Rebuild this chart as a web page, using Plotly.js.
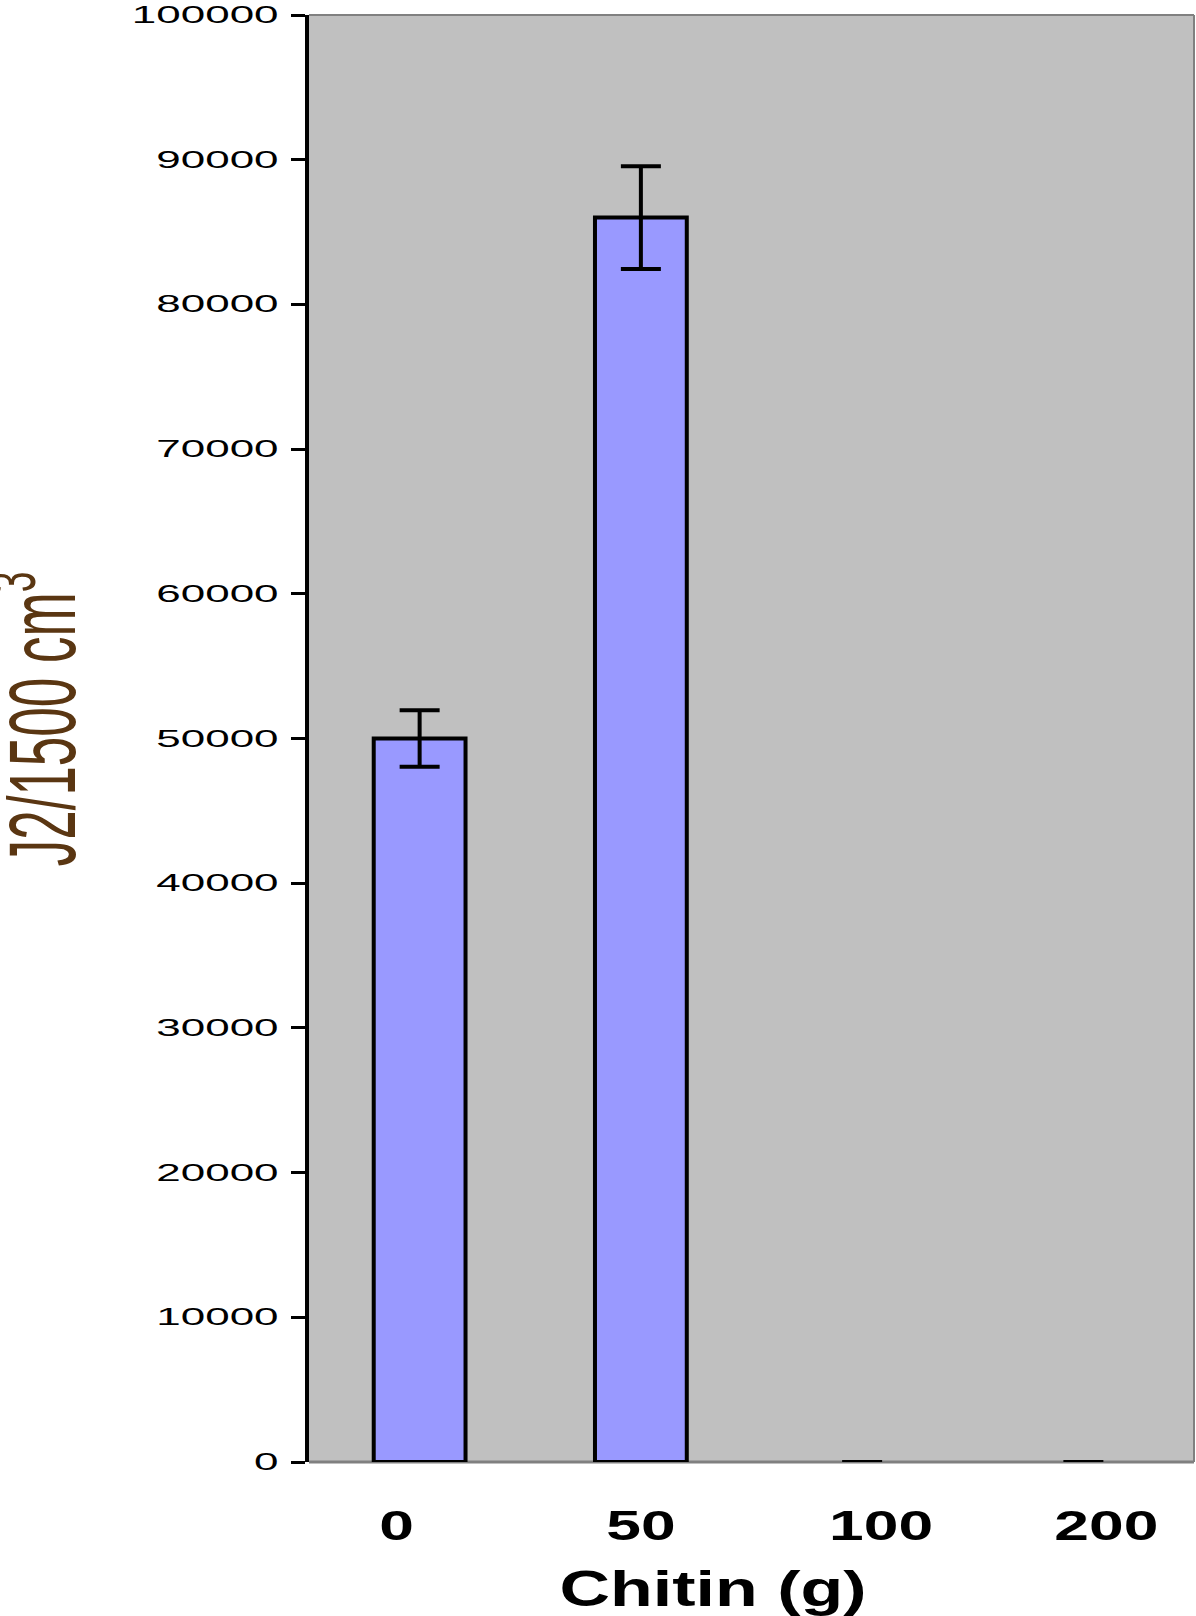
<!DOCTYPE html>
<html><head><meta charset="utf-8">
<script src="https://cdn.plot.ly/plotly-3.0.1.min.js"></script>
<style>html,body{margin:0;padding:0;background:#fff}</style>
</head><body>
<div id="chart" style="width:1196px;height:1616px"></div>
<script>
const categories = ['0', '50', '100', '200'];
const juveniles = [50000, 86000, 0, 0];
const juvenilesSE = [1950, 3550, 0, 0];
const yTickValues = [0, 10000, 20000, 30000, 40000, 50000, 60000, 70000, 80000, 90000, 100000];
const yTickText = ['0', '10000', '20000', '30000', '40000', '50000', '60000', '70000', '80000', '90000', '100000'];
const xTitle = 'Chitin (g)';
const yTitle = 'J2/1500 cm<sup>3</sup>';

const FONT = 'Liberation Sans, Arial, sans-serif';
// small horizontal nudges of the category labels (px), as in the original rendering
const xLabelNudge = [-23, 0, 19, 23];

const trace = {
  type: 'bar', x: categories, y: juveniles,
  marker: {color: '#9999FF', line: {color: '#000', width: juveniles.map(v => v > 0 ? 4 : 0)}},
  error_y: {type: 'data', array: juvenilesSE, visible: true, color: '#000', thickness: 4, width: 20},
  cliponaxis: false,
  hoverinfo: 'none'
};

const layout = {
  width: 1196, height: 1616,
  margin: {l: 309, r: 2, t: 15, b: 154, pad: 0},
  paper_bgcolor: '#ffffff', plot_bgcolor: '#C0C0C0',
  bargap: 0.585, showlegend: false,
  xaxis: {
    type: 'category', showline: false, showgrid: false, zeroline: false, ticks: '',
    tickfont: {family: FONT, size: 43, color: '#000', weight: 'bold'},
    ticklabelstandoff: 34,
    title: {text: xTitle, font: {family: FONT, size: 50, color: '#000', weight: 'bold'}}
  },
  yaxis: {
    range: [0, 100000], tickvals: yTickValues, ticktext: yTickText,
    showline: true, linecolor: '#000', linewidth: 4,
    ticks: 'outside', ticklen: 14, tickwidth: 3, tickcolor: '#000',
    showgrid: false, zeroline: false,
    tickfont: {family: FONT, size: 22, color: '#000'},
    ticklabelstandoff: 8,
    title: {text: yTitle, font: {family: FONT, size: 53, color: '#5a3612'}}
  },
  shapes: [
    {type: 'line', xref: 'paper', yref: 'paper', x0: 0, x1: 1, y0: 1, y1: 1, line: {color: '#808080', width: 2}, layer: 'below'},
    {type: 'line', xref: 'paper', yref: 'paper', x0: 1, x1: 1, y0: 0, y1: 1, line: {color: '#808080', width: 2}, layer: 'below'},
    {type: 'line', xref: 'paper', yref: 'paper', x0: 0, x1: 1, y0: 0, y1: 0, line: {color: '#808080', width: 3}, layer: 'below'}
  ]
};

Plotly.newPlot('chart', [trace], layout, {staticPlot: true}).then(function (gd) {
  function scaleText(el, sx, sy, anchor, dx) {
    const b = el.getBBox();
    const ax = anchor === 'end' ? b.x + b.width : b.x + b.width / 2;
    const ay = b.y + b.height / 2;
    const t = el.getAttribute('transform') || '';
    el.setAttribute('transform', t + ' translate(' + (ax + (dx || 0)) + ',' + ay + ') scale(' + sx + ',' + sy + ') translate(' + (-ax) + ',' + (-ay) + ')');
  }
  gd.querySelectorAll('.ytick text').forEach(function (el) { scaleText(el, 2.0, 1.05, 'end'); });
  gd.querySelectorAll('.xtick text').forEach(function (el, i) { scaleText(el, 1.45, 1, 'middle', xLabelNudge[i] || 0); });

  const xt = gd.querySelector('.g-xtitle text');
  if (xt) {
    const b = xt.getBBox();
    const cx = b.x + b.width / 2, by = +xt.getAttribute('y');
    xt.setAttribute('transform', 'translate(713,1623) scale(1.4,1) translate(' + (-cx) + ',' + (-by) + ')');
  }
  const yt = gd.querySelector('.g-ytitle text');
  if (yt) {
    const b = yt.getBBox();
    const cx = b.x + b.width / 2, by = +yt.getAttribute('y');
    yt.setAttribute('transform', 'translate(75,719) rotate(-90) scale(1,1.8) translate(' + (-cx) + ',' + (-by) + ')');
  }
});
</script>
</body></html>
